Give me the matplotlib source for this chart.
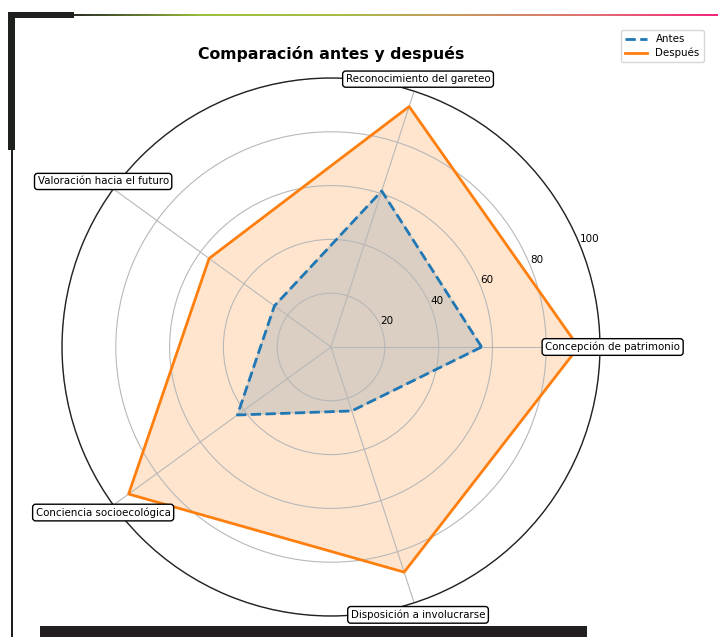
import numpy as np
import matplotlib
matplotlib.use('Agg')
import matplotlib.pyplot as plt
from matplotlib.patches import Rectangle
from matplotlib.colors import LinearSegmentedColormap

# ── Data ──────────────────────────────────────────────────────
categories = ['Concepción de patrimonio', 'Reconocimiento del gareteo',
              'Valoración hacia el futuro', 'Conciencia socioecológica',
              'Disposición a involucrarse']
antes   = [56, 61, 26, 43, 25]
despues = [92, 94, 56, 93, 88]
rticks  = [20, 40, 60, 80, 100]

W, H = 718, 637
DARK = '#1d201d'

fig = plt.figure(figsize=(W / 100, H / 100), dpi=100, facecolor='white')

# ── Radar ─────────────────────────────────────────────────────
cx, cy, R = 331, 347, 269
ax = fig.add_axes([(cx - R) / W, (H - cy - R) / H, 2 * R / W, 2 * R / H],
                  projection='polar')

angles = np.linspace(0, 2 * np.pi, len(categories), endpoint=False)
ang = np.concatenate([angles, angles[:1]])

a_vals = antes + antes[:1]
d_vals = despues + despues[:1]

ax.fill(ang, a_vals, color='#1f77b4', alpha=0.2)
ax.plot(ang, a_vals, color='#1f77b4', lw=2, ls='--', label='Antes', zorder=4)
ax.fill(ang, d_vals, color='#ff7f0e', alpha=0.2)
ax.plot(ang, d_vals, color='#ff7f0e', lw=2, label='Después', zorder=4)

ax.set_ylim(0, 100)
ax.set_yticks(rticks)
ax.set_yticklabels([str(t) for t in rticks], fontsize=7.5)
ax.set_rlabel_position(22.5)
ax.set_xticks(angles)
ax.set_xticklabels([])
ax.grid(True, color='#b8b8b8', lw=0.8)
ax.spines['polar'].set_color('#222222')
ax.spines['polar'].set_linewidth(1)

for a, name in zip(angles, categories):
    ax.text(a, 104.7, name, ha='center', va='center', fontsize=7.4,
            clip_on=False, zorder=6,
            bbox=dict(boxstyle='round,pad=0.3', fc='white', ec='black', lw=1))

fig.text(cx / W, 1 - 54 / H, 'Comparación antes y después',
         ha='center', va='center', fontsize=11.3, fontweight='bold')

fig.legend(loc='upper right', bbox_to_anchor=(709 / W, 1 - 25 / H),
           fontsize=7.4, frameon=True, handlelength=2.2, labelspacing=0.35)

# ── Frame decorations ─────────────────────────────────────────
fig.add_artist(Rectangle((8 / W, 1 - 150 / H), 7 / W, 138 / H,
                         transform=fig.transFigure, color=DARK, lw=0))
fig.add_artist(Rectangle((8 / W, 1 - 18 / H), 66 / W, 6 / H,
                         transform=fig.transFigure, color=DARK, lw=0))
fig.add_artist(Rectangle((11 / W, 0), 2.2 / W, 1 - 150 / H,
                         transform=fig.transFigure, color=DARK, lw=0))
fig.add_artist(Rectangle((40 / W, 0), 547 / W, 11 / H,
                         transform=fig.transFigure, color='#231f20', lw=0))

grad = LinearSegmentedColormap.from_list(
    'bar', [(0, '#2a2f28'), (0.2, '#9dc13c'), (0.42, '#a8bc4a'),
            (0.6, '#c8985e'), (0.8, '#e07274'), (1, '#f2267c')])
gax = fig.add_axes([74 / W, 1 - 16.5 / H, (W - 74) / W, 3 / H])
gax.imshow(np.linspace(0, 1, 256)[None, :], aspect='auto', cmap=grad)
gax.axis('off')

plt.savefig('out.png', dpi=100, facecolor='white')
